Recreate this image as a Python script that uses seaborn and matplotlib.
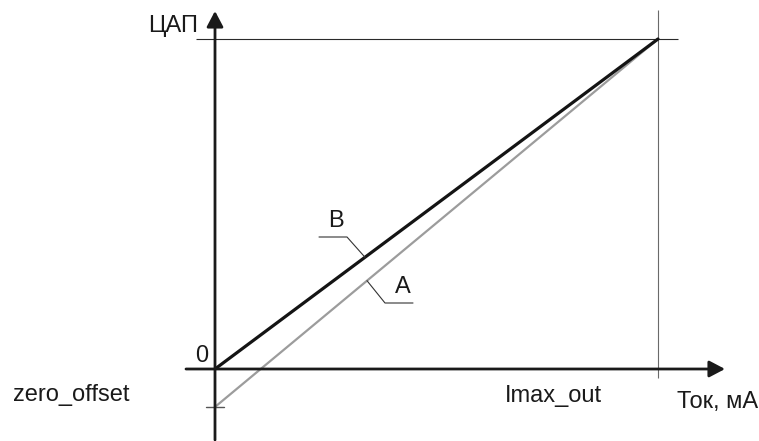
import numpy as np
import pandas as pd
import matplotlib
matplotlib.use("Agg")
import matplotlib.pyplot as plt
import seaborn as sns

# ---- data (normalised units: Imax_out = 1, DAC full scale = 1) ----
current = [0.0, 1.0]            # Ток, мА : 0 .. Imax_out
dac_B = [0.0, 1.0]              # line B: starts at 0
zero_offset = -0.115
dac_A = [zero_offset, 1.0]      # line A: starts at zero_offset
imax_out = 1.0
dac_max = 1.0

sns.set_theme(style="white")
plt.rcParams["font.family"] = ["Liberation Sans", "DejaVu Sans"]

W, H = 759, 441
fig = plt.figure(figsize=(W / 100, H / 100), dpi=100)
ax = fig.add_axes([0, 0, 1, 1])
ax.set_axis_off()

# pixel layout of the origin and of (Imax, DAC max)
x0p, y0p = 215.0, 369.0
x1p, y1p = 658.0, 39.0
sx = (x1p - x0p) / imax_out
sy = (y0p - y1p) / dac_max


def P(px, py):
    return ((px - x0p) / sx, (y0p - py) / sy)


ax.set_xlim(P(0, 0)[0], P(W, 0)[0])
ax.set_ylim(P(0, H)[1], P(0, 0)[1])

thin = dict(lw=0.8, solid_capstyle="butt")
# reference lines at Imax_out and DAC max
ax.plot([imax_out, imax_out], [P(0, 378)[1], P(0, 10)[1]], color="#6a6a6a", **thin)
ax.plot([P(196, 0)[0], P(678, 0)[0]], [dac_max, dac_max], color="#2a2a2a", **thin)
# zero_offset tick
ax.plot([P(206, 0)[0], P(224, 0)[0]], [zero_offset, zero_offset], color="#555555", lw=1.0)

# axes with arrows
arr = dict(arrowstyle="-|>,head_length=0.95,head_width=0.5", mutation_scale=10,
           lw=2.0, color="#1a1a1a", shrinkA=0, shrinkB=0)
ax.annotate("", xy=P(725, y0p), xytext=P(186, y0p), arrowprops=arr)
ax.annotate("", xy=P(x0p, 11), xytext=P(x0p, 440), arrowprops=arr)

df = pd.DataFrame({
    "current": current * 2,
    "dac": dac_A + dac_B,
    "series": ["A"] * len(current) + ["B"] * len(current),
})
sns.lineplot(data=df[df.series == "A"], x="current", y="dac", color="#9c9c9c",
             lw=1.6, ax=ax, legend=False)
sns.lineplot(data=df[df.series == "B"], x="current", y="dac", color="#141414",
             lw=2.3, ax=ax, legend=False)
ax.set_xlabel("")
ax.set_ylabel("")
ax.set_xlim(P(0, 0)[0], P(W, 0)[0])
ax.set_ylim(P(0, H)[1], P(0, 0)[1])

# leader lines for A and B
xb = P(365, 0)[0]
yb = np.interp(xb, current, dac_B)
bx1, by1 = P(347, 237)
bx0, _ = P(319, 237)
ax.plot([xb, bx1, bx0], [yb, by1, by1], color="#333333", lw=0.8)

xa = P(367, 0)[0]
ya = np.interp(xa, current, dac_A)
ax_1, ay1 = P(385, 303)
ax_2, _ = P(413, 303)
ax.plot([xa, ax_1, ax_2], [ya, ay1, ay1], color="#333333", lw=0.8)

fs = 17
tc = "#1a1a1a"
ax.text(*P(198, 32), "ЦАП", ha="right", va="baseline", fontsize=fs, color=tc)
ax.text(*P(208, 362), "0", ha="right", va="baseline", fontsize=fs, color=tc)
ax.text(*P(13, 401), "zero_offset", ha="left", va="baseline", fontsize=fs, color=tc)
ax.text(*P(553, 402), "Imax_out", ha="center", va="baseline", fontsize=fs, color=tc)
ax.text(*P(677, 408), "Ток, мА", ha="left", va="baseline", fontsize=fs, color=tc)
ax.text(*P(335.5, 227), "B", ha="center", va="baseline", fontsize=fs, color=tc)
ax.text(*P(402.5, 293), "A", ha="center", va="baseline", fontsize=fs, color=tc)

fig.savefig("out.png", dpi=100, facecolor="white")
